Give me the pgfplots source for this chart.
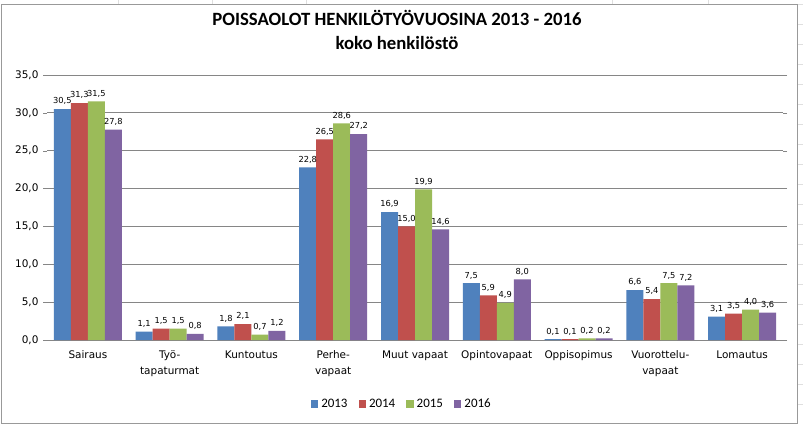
\documentclass[border=0pt]{standalone}
\usepackage{pgfplots}
\pgfplotsset{compat=1.18}
\usepackage{fontspec}
\setmainfont{DejaVu Sans}
\newfontfamily\carlito{Carlito}
\definecolor{c13}{RGB}{79,129,189}
\definecolor{c14}{RGB}{192,80,77}
\definecolor{c15}{RGB}{155,187,89}
\definecolor{c16}{RGB}{128,100,162}
\definecolor{gridc}{RGB}{134,134,134}
\begin{document}
\begin{tikzpicture}[x=1bp,y=1bp]
\path[use as bounding box] (0,0) rectangle (803,424);
\fill[white] (0,0) rectangle (803,424);
\foreach \yy in {20,40,...,420} {\draw[gray!25, line width=0.5bp] (797,\yy) -- (803,\yy);}
\draw[gray!25, line width=0.5bp] (118,420) -- (118,424) (212,420) -- (212,424) (306,420) -- (306,424) (612,420) -- (612,424) (708,420) -- (708,424);
\draw[gray!80, line width=0.9bp] (1,1) rectangle (797,420);
\node[font=\carlito\bfseries\fontsize{18.8}{24}\selectfont, align=center] at (397,394) {POISSAOLOT HENKILÖTYÖVUOSINA 2013 - 2016\\koko henkilöstö};
\begin{axis}[
  at={(47bp,84bp)}, scale only axis, width=736bp, height=265bp,
  ybar=0pt, bar width=17bp,
  legend image code/.code={\fill[#1,draw=none] (0bp,-3.5bp) rectangle (7.5bp,4bp);},
  xmin=-0.5, xmax=8.5, ymin=0, ymax=35, ytick={0,5,...,35},
  xtick={0,...,8},
  xticklabels={Sairaus,{Työ-\\tapaturmat},Kuntoutus,{Perhe-\\vapaat},Muut vapaat,Opintovapaat,Oppisopimus,{Vuorottelu-\\vapaat},Lomautus},
  xticklabel style={align=center, font=\fontsize{10.5}{16}\selectfont, yshift=-3bp},
  yticklabel={\pgfmathprintnumber[fixed,fixed zerofill,precision=1,use comma,assume math mode=true]{\tick}},
  yticklabel style={font=\fontsize{10.5}{13}\selectfont, xshift=-1bp},
  major x tick style={draw=none},
  ytick style={gridc},
  major tick length=4bp, tick align=outside,
  axis line style={draw=none},
  ymajorgrids, grid style={gridc, line width=0.8bp},
  nodes near coords={\pgfmathprintnumber[fixed,fixed zerofill,precision=1,use comma,assume math mode=true]{\pgfplotspointmeta}},
  nodes near coords style={font=\fontsize{8.3}{10}\selectfont, inner sep=1.5bp, yshift=2.5bp},
  legend style={at={(0.482,-0.242)}, anchor=center, draw=none, legend columns=4,
    font=\carlito\fontsize{13}{15}\selectfont,
    /tikz/every odd column/.append style={column sep=1bp},
    /tikz/every even column/.append style={column sep=9bp}},
  clip=false,
]
\addplot[fill=c13, draw=none] coordinates {(0,30.5) (1,1.1) (2,1.8) (3,22.8) (4,16.9) (5,7.5) (6,0.1) (7,6.6) (8,3.1)};
\addplot[fill=c14, draw=none] coordinates {(0,31.3) (1,1.5) (2,2.1) (3,26.5) (4,15.0) (5,5.9) (6,0.1) (7,5.4) (8,3.5)};
\addplot[fill=c15, draw=none] coordinates {(0,31.5) (1,1.5) (2,0.7) (3,28.6) (4,19.9) (5,4.9) (6,0.2) (7,7.5) (8,4.0)};
\addplot[fill=c16, draw=none] coordinates {(0,27.8) (1,0.8) (2,1.2) (3,27.2) (4,14.6) (5,8.0) (6,0.2) (7,7.2) (8,3.6)};
\legend{2013,2014,2015,2016}
\end{axis}
\end{tikzpicture}
\end{document}
